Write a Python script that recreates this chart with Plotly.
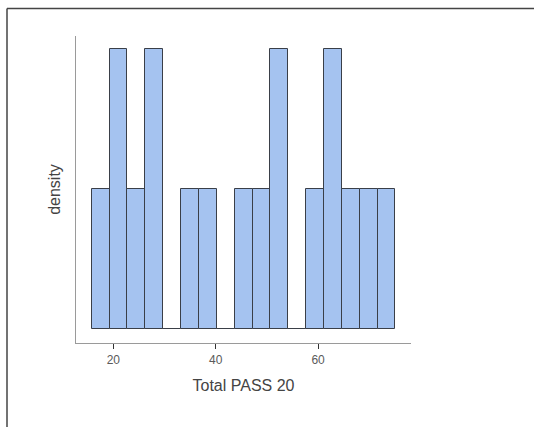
import plotly.graph_objects as go

# Histogram bins (Total PASS 20)
bin_start = 15.78
bin_width = 3.49
bin_counts = [1, 2, 1, 2, 0, 1, 1, 0, 1, 1, 2, 0, 1, 2, 1, 1, 1]
x_ticks = [20, 40, 60]

n_total = sum(bin_counts)
bin_centers = [bin_start + bin_width * (i + 0.5) for i in range(len(bin_counts))]
density = [c / (n_total * bin_width) for c in bin_counts]
unit = 1 / (n_total * bin_width)

fig = go.Figure(go.Bar(
    x=bin_centers, y=density, width=bin_width,
    marker=dict(color="#A5C3F0", line=dict(color="#3a3f48", width=1)),
    hoverinfo="skip",
))

L, R, T, B = 76, 123, 36, 84
pw, ph = 534 - L - R, 427 - T - B

fig.update_layout(
    width=534, height=427,
    margin=dict(l=L, r=R, t=T, b=B, pad=0),
    paper_bgcolor="white", plot_bgcolor="white",
    showlegend=False,
    bargap=0,
    font=dict(family="Liberation Sans, Arial, sans-serif"),
    xaxis=dict(
        range=[12.71, 78.14], tickvals=x_ticks, ticktext=[str(v) for v in x_ticks],
        showgrid=False, zeroline=False, showline=True, linecolor="#9a9a9a", linewidth=1.3,
        ticks="outside", ticklen=5, tickcolor="#333333", tickwidth=1.3,
        tickfont=dict(size=12, color="#5a5a5a"),
        title=dict(text="Total PASS 20", font=dict(size=16, color="#444444"), standoff=14),
    ),
    yaxis=dict(
        range=[-0.1 * unit, 2.093 * unit], showticklabels=False, ticks="",
        showgrid=False, zeroline=False, showline=True, linecolor="#9a9a9a", linewidth=1.3,
        title=dict(text="density", font=dict(size=16, color="#444444"), standoff=10),
    ),
    shapes=[
        dict(type="line", xref="paper", yref="paper",
             x0=(7 - L) / pw, x1=(540 - L) / pw,
             y0=(T + ph - 8.5) / ph, y1=(T + ph - 8.5) / ph,
             line=dict(color="#444444", width=1.5)),
        dict(type="line", xref="paper", yref="paper",
             x0=(7 - L) / pw, x1=(7 - L) / pw,
             y0=(T + ph - 8.5) / ph, y1=(T + ph - 430) / ph,
             line=dict(color="#444444", width=1.5)),
    ],
)

fig.write_html(
    "out.html",
    config={"displayModeBar": False},
    post_script="document.body.style.margin='0';document.body.style.overflow='hidden';",
)
